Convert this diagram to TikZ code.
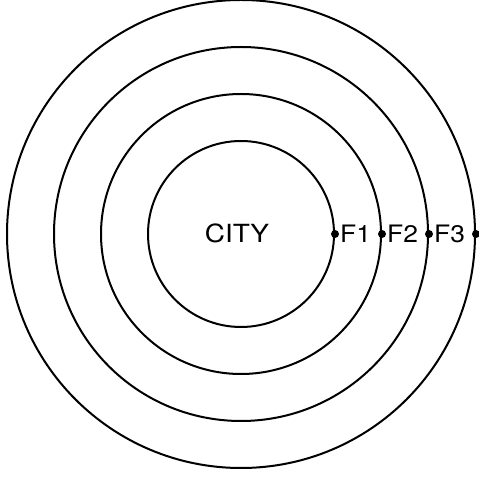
\documentclass[tikz,border=0pt]{standalone}
\usepackage{fontspec}
\setmainfont{TeX Gyre Heros}
\usetikzlibrary{positioning}
\begin{document}
\begin{tikzpicture}[x=1pt, y=1pt]
  \tikzset{
    ring/.style={circle, draw, line width=2pt, inner sep=0pt},
    dot/.style={circle, fill=black, inner sep=0pt, minimum size=8pt},
    flabel/.style={font=\fontsize{24}{24}\selectfont, inner sep=0pt, anchor=west, xscale=1.1}
  }
  \useasboundingbox (0,0) rectangle (479,479);

  % Centro de la ciudad
  \coordinate (c) at (241,245);

  % Anillos concentricos
  \node[ring, minimum size=186pt] (r1) at (c) {};
  \node[ring, minimum size=280pt] (r2) at (c) {};
  \node[ring, minimum size=374pt] (r3) at (c) {};
  \node[ring, minimum size=468pt] (r4) at (c) {};

  % Puntos sobre los anillos
  \node[dot] (f1) at (r1.east) {};
  \node[dot] (f2) at (r2.east) {};
  \node[dot] (f3) at (r3.east) {};
  \node[dot] (f4) at (r4.east) {};

  % Etiquetas
  \node[flabel, right=5pt of f1.center] (l1) {F1};
  \node[flabel, right=5pt of f2.center] (l2) {F2};
  \node[flabel, right=5pt of f3.center] (l3) {F3};
  \node[font=\fontsize{25}{25}\selectfont, xscale=1.12] (city) at (237,246) {CITY};
\end{tikzpicture}
\end{document}
